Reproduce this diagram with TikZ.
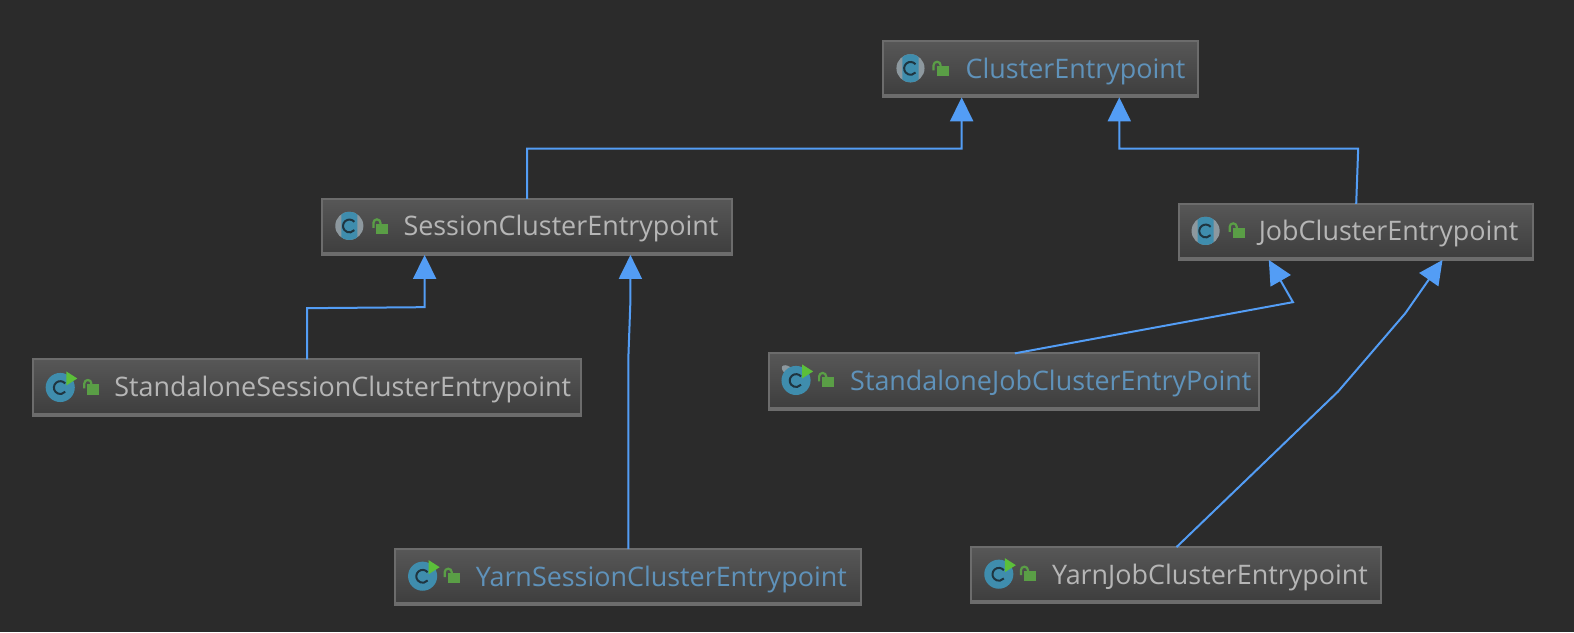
\documentclass[tikz,border=0pt]{standalone}
\usepackage{fontspec}
\setmainfont{Open Sans}
\usetikzlibrary{arrows.meta}
\definecolor{bgc}{HTML}{2B2B2B}
\definecolor{edgec}{HTML}{6C6C6C}
\definecolor{topc}{HTML}{575757}
\definecolor{botc}{HTML}{3D3D3D}
\definecolor{linkc}{HTML}{539DF5}
\definecolor{bluet}{HTML}{5F92BA}
\definecolor{greyt}{HTML}{B6B6B6}
\definecolor{tealc}{HTML}{3F8DAD}
\definecolor{sidec}{HTML}{8D989E}
\definecolor{cdark}{HTML}{1F3540}
\definecolor{lockc}{HTML}{5A9E46}
\definecolor{playc}{HTML}{5CBF3A}
\tikzset{
  x=1.00383pt,y=-1.00383pt,
  cbox/.style n args={3}{draw=edgec,line width=2pt,top color=topc,bottom color=botc,
    minimum height=56.2pt,inner xsep=0pt,inner ysep=0pt,outer sep=0pt,
    text width=#1 pt,text height=24pt,text depth=6pt,align=left,text=#3,
    font=\fontsize{26.9}{30}\selectfont,
    execute at begin node={\hspace*{#2pt}},
    path picture={\fill[edgec] ([yshift=3pt]path picture bounding box.south west) rectangle (path picture bounding box.south east);}},
  link/.style={draw=linkc,line width=2pt,rounded corners=0pt,-{Triangle[length=24pt,width=23pt,fill=linkc]}},
}
\newcommand{\cglyph}[2]{\draw[cdark,line width=2pt] (#1+5,#2-4) arc[start angle=-40,end angle=-320,radius=6.4];}
\newcommand{\abstracticon}[2]{%
  \fill[sidec] (#1,#2) circle[radius=14];
  \begin{scope}\clip (#1-8,#2-15) rectangle (#1+8,#2+15);\fill[tealc] (#1,#2) circle[radius=14];\end{scope}
  \cglyph{#1}{#2}}
\newcommand{\runicon}[2]{%
  \fill[tealc] (#1,#2) circle[radius=14.5];
  \cglyph{#1}{#2}
  \fill[playc] (#1+6,#2-16) -- (#1+17,#2-9) -- (#1+6,#2-2) -- cycle;}
\newcommand{\lockicon}[2]{%
  \fill[lockc] (#1-6,#2-5) rectangle (#1+6,#2+5);
  \draw[lockc,line width=2.2pt] (#1-9,#2-1) -- (#1-9,#2-6) arc[start angle=180,end angle=360,radius=3.5] -- (#1-2,#2-4);}
\begin{document}
\begin{tikzpicture}
\useasboundingbox (0,0) rectangle (1568,629.6);
\fill[bgc] (0,0) rectangle (1568,629.6);

\node[cbox={314.2}{82.3}{bluet},anchor=north west] (cluster) at (880,41) {ClusterEntrypoint};
\node[cbox={409.6}{81.3}{greyt},anchor=north west] (session) at (321,198) {SessionClusterEntrypoint};
\node[cbox={354.4}{80.3}{greyt},anchor=north west] (job) at (1174,203) {JobClusterEntrypoint};
\node[cbox={548.1}{81.3}{greyt},anchor=north west] (sasession) at (33,358) {StandaloneSessionClusterEntrypoint};
\node[cbox={489.9}{81.3}{bluet},anchor=north west] (sajob) at (766,352) {StandaloneJobClusterEntryPoint};
\node[cbox={466.8}{81.3}{bluet},anchor=north west] (yarnsession) at (393,547) {YarnSessionClusterEntrypoint};
\node[cbox={410.6}{81.3}{greyt},anchor=north west] (yarnjob) at (967,545) {YarnJobClusterEntrypoint};

\abstracticon{907}{68}\lockicon{939}{71}
\abstracticon{348}{225}\lockicon{381}{228}
\abstracticon{1201}{230}\lockicon{1234}{232}
\runicon{60}{386}\lockicon{93}{388}
\fill[sidec,rotate around={-35:(785,369)}] (785,369) ellipse[x radius=7,y radius=4];
\draw[sidec,line width=1.2pt] (788,373) -- (793,377);
\runicon{793}{379}\lockicon{825}{381}
\runicon{421}{574}\lockicon{452}{576}
\runicon{995}{572}\lockicon{1026}{574}

\draw[link] ([xshift=204.8pt]session.north west) -- (525,148) -- (958,148) -- ([xshift=78.3pt]cluster.south west);
\draw[link] ([xshift=177.7pt]job.north west) -- (1353,148) -- (1115,148) -- ([xshift=235.9pt]cluster.south west);
\draw[link] ([xshift=274pt]sasession.north west) -- (306,307) -- (423,306) -- ([xshift=102.4pt]session.south west);
\draw[link] ([xshift=233.9pt]yarnsession.north west) -- (626,355) -- (628,300) -- ([xshift=308.2pt]session.south west);
\draw[link] ([xshift=245.9pt]sajob.north west) -- (1288,301) -- ([xshift=90.3pt]job.south west);
\draw[link] ([xshift=205.8pt]yarnjob.north west) -- (1333,390) -- (1400,312) -- ([xshift=264pt]job.south west);
\end{tikzpicture}
\end{document}
